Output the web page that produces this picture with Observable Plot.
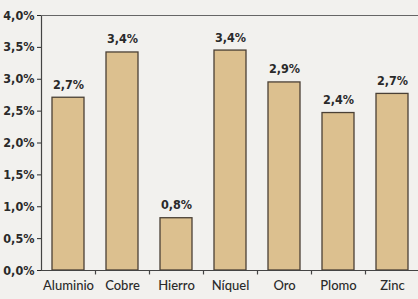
<!DOCTYPE html>
<html><head><meta charset="utf-8">
<script src="https://cdn.jsdelivr.net/npm/d3@7"></script>
<script src="https://cdn.jsdelivr.net/npm/@observablehq/plot@0.6"></script>
<style>
html,body{margin:0;padding:0;background:#f2f1ee;}
</style>
</head><body>
<div id="chart"></div>
<script>
const categories = ["Aluminio","Cobre","Hierro","Níquel","Oro","Plomo","Zinc"];
const values = [2.71, 3.42, 0.82, 3.45, 2.95, 2.47, 2.77];
const valueLabels = ["2,7%","3,4%","0,8%","3,4%","2,9%","2,4%","2,7%"];
const yTicks = [0,0.5,1,1.5,2,2.5,3,3.5,4];

const data = categories.map((c,i)=>({cat:c, v:values[i], lab:valueLabels[i]}));
const fmt = d => d.toFixed(1).replace(".",",") + "%";

const plot = Plot.plot({
  width: 418, height: 299,
  marginLeft: 41, marginTop: 15, marginBottom: 29, marginRight: 0,
  style: {background: "transparent", fontFamily: "'Liberation Sans Narrow', 'DejaVu Sans Condensed', sans-serif", color: "#2a2a2a"},
  x: {domain: categories, range: [41, 419], paddingInner: 0.4, paddingOuter: 0.2, label: null},
  y: {domain: [0, 4], label: null},
  marks: [
    Plot.axisY({ticks: yTicks, tickFormat: fmt, tickSize: 4, tickPadding: 3, fontSize: 12.5, fontWeight: 600, label: null}),
    Plot.axisX({tickSize: 0, tickPadding: 10, fontSize: 13, fontFamily: "Lato, sans-serif", fontWeight: 500, label: null}),
    Plot.ruleX(categories.slice(0, -1), {dx: 27, y1: 0, y2: -0.07, stroke: "#444", strokeWidth: 1.2}),
    Plot.barY(data, {x: "cat", y: "v", fill: "#dcc08f", stroke: "#4a4035", strokeWidth: 1.3}),
    Plot.text(data, {x: "cat", y: "v", text: "lab", dy: -13, fontSize: 12.5, fontWeight: 600, fill: "#2a2a2a"}),
    Plot.frame({anchor: "left", stroke: "#444", strokeWidth: 1.2}),
    Plot.ruleY([0], {stroke: "#444", strokeWidth: 1.2}),
    Plot.ruleY([4], {stroke: "#666", strokeWidth: 1.2})
  ]
});
document.getElementById("chart").appendChild(plot);
</script>
</body></html>
